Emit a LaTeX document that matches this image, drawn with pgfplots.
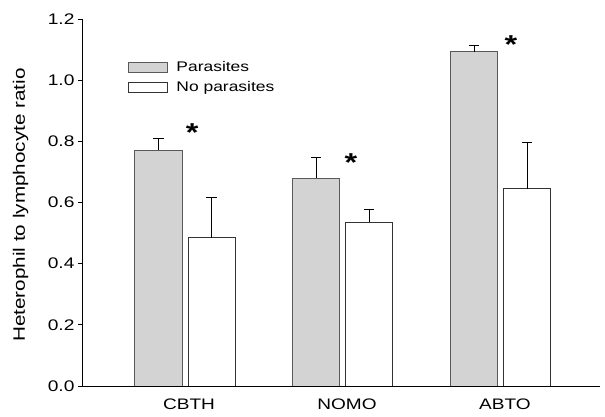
\documentclass[border=0pt]{standalone}
\usepackage{fontspec}
\setmainfont{Liberation Sans}[FakeStretch=1.25]
\usepackage{pgfplots}
\pgfplotsset{compat=1.18}

% bar values, error is the upper SE only
\pgfplotstableread{
x  y      err
0  0.771  0.038
1  0.680  0.068
2  1.093  0.021
}\parasites
\pgfplotstableread{
x  y      err
0  0.485  0.131
1  0.536  0.041
2  0.645  0.150
}\noparasites

\begin{document}
\begin{tikzpicture}
\begin{axis}[
    scale only axis,
    width=518bp, height=367bp,
    ybar=6bp, bar width=47bp,
    xmin=-0.652, xmax=2.627,
    ymin=0, ymax=1.2,
    axis x line*=bottom, axis y line*=left,
    axis line style={black, line width=0.9bp},
    xtick={0,1,2}, xticklabels={CBTH,NOMO,ABTO},
    x tick style={draw=none},
    ytick={0,0.2,...,1.2},
    tick align=outside, major tick length=4bp,
    y tick style={black, line width=0.9bp},
    /pgf/number format/assume math mode=true,
    yticklabel style={/pgf/number format/.cd, fixed, fixed zerofill, precision=1},
    ticklabel style={font=\fontsize{15.4}{15.4}\selectfont},
    xticklabel style={font=\fontsize{15.3}{15.3}\selectfont, yshift=-5bp, xshift=4bp},
    ylabel={Heterophil to lymphocyte ratio},
    every axis y label/.style={at={(axis description cs:-0.1187,0.493)}, rotate=90, anchor=center,
        font=\fontsize{16.6}{16.6}\selectfont},
    legend style={at={(axis description cs:0.0875,0.89)}, anchor=north west, draw=none, fill=none,
        inner sep=0pt, font=\fontsize{14}{14}\selectfont, row sep=4.5bp,
        cells={anchor=west}},
    legend image code/.code={\draw[#1, line width=0.9bp] (0bp,-5bp) rectangle (39bp,5bp);
        \path (46bp,0bp);},
    error bars/y dir=plus, error bars/y explicit,
    error bars/error mark options={rotate=90, mark size=5bp, line width=0.9bp, black},
    error bars/error bar style={line width=0.9bp, black},
]
\addplot[fill={rgb,255:red,211;green,211;blue,211}, draw=black!65, line width=1bp]
    table[x=x, y=y, y error=err] {\parasites};
\addlegendentry{Parasites}
\addplot[fill=white, draw=black!80, line width=1bp]
    table[x=x, y=y, y error=err] {\noparasites};
\addlegendentry{No parasites}

\node[font=\fontsize{26}{26}\selectfont\bfseries] at (axis cs:0.046,0.828) {*};
\node[font=\fontsize{26}{26}\selectfont\bfseries] at (axis cs:1.050,0.729) {*};
\node[font=\fontsize{26}{26}\selectfont\bfseries] at (axis cs:2.063,1.116) {*};

\coordinate (O) at (rel axis cs:0,0);
\end{axis}
\pgfresetboundingbox
\path[use as bounding box] ([shift={(-82bp,-31bp)}]O) rectangle ++(605bp,417bp);
\end{tikzpicture}
\end{document}
